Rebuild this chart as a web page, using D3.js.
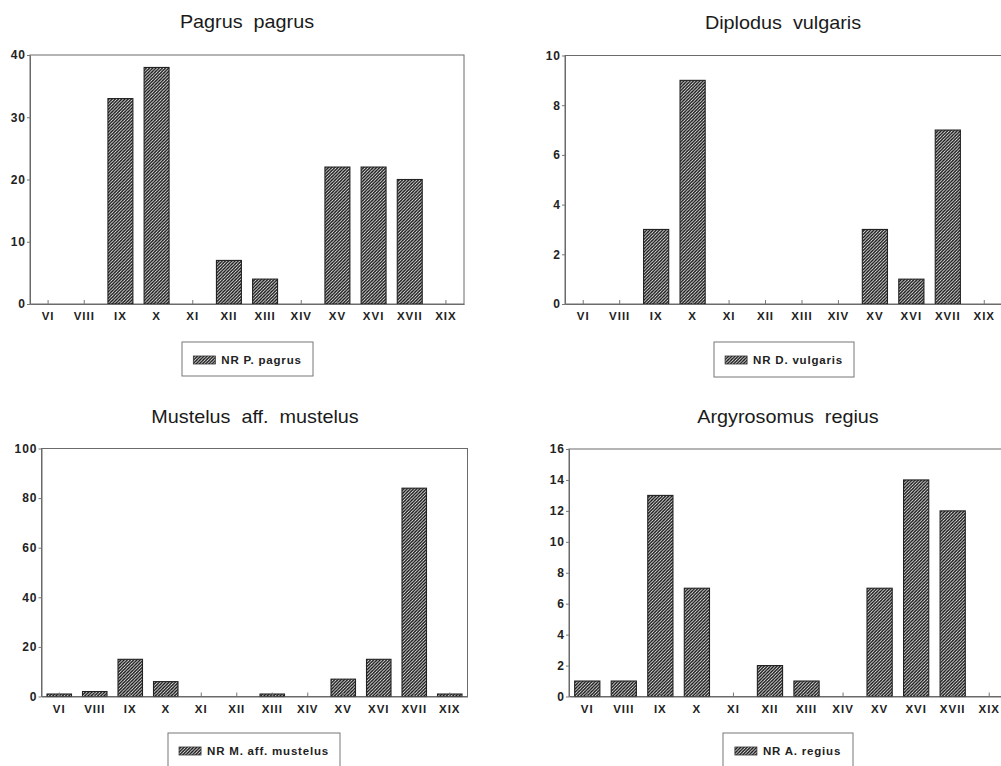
<!DOCTYPE html>
<html>
<head>
<meta charset="utf-8">
<script src="https://cdn.jsdelivr.net/npm/d3@7"></script>
<style>
  html, body { margin: 0; padding: 0; background: #fff; }
  svg { display: block; }
  .tick text { font-family: "Liberation Sans", Arial, sans-serif; font-weight: bold; fill: #222; }
</style>
</head>
<body>
<svg id="chart" width="1001" height="766"></svg>
<script>
// ---- data ----
const categories = ["VI","VIII","IX","X","XI","XII","XIII","XIV","XV","XVI","XVII","XIX"];

const pagrusValues    = [0, 0, 33, 38, 0, 7, 4, 0, 22, 22, 20, 0];
const diplodusValues  = [0, 0, 3, 9, 0, 0, 0, 0, 3, 1, 7, 0];
const mustelusValues  = [1, 2, 15, 6, 0, 0, 1, 0, 7, 15, 84, 1];
const argyroValues    = [1, 1, 13, 7, 0, 2, 1, 0, 7, 14, 12, 0];

const pagrusTicks   = [0, 10, 20, 30, 40];
const diplodusTicks = [0, 2, 4, 6, 8, 10];
const mustelusTicks = [0, 20, 40, 60, 80, 100];
const argyroTicks   = [0, 2, 4, 6, 8, 10, 12, 14, 16];

const titles  = ["Pagrus  pagrus", "Diplodus  vulgaris", "Mustelus  aff.  mustelus", "Argyrosomus  regius"];
const legends = ["NR P. pagrus", "NR D. vulgaris", "NR M. aff. mustelus", "NR A. regius"];

// ---- layout ----
const panels = [
  { values: pagrusValues,   ticks: pagrusTicks,   title: titles[0], legend: legends[0],
    left: 30,  right: 464,   top: 55,  bottom: 304, titleX: 247, titleY: 28,
    lg: { x: 182, y: 342, w: 131, h: 34 } },
  { values: diplodusValues, ticks: diplodusTicks, title: titles[1], legend: legends[1],
    left: 565, right: 1002.5, top: 55.5, bottom: 304, titleX: 783, titleY: 29,
    lg: { x: 714, y: 342, w: 140, h: 35 } },
  { values: mustelusValues, ticks: mustelusTicks, title: titles[2], legend: legends[2],
    left: 41.5, right: 467.5, top: 448.5, bottom: 696.5, titleX: 255, titleY: 423,
    lg: { x: 168, y: 733, w: 172, h: 45 } },
  { values: argyroValues,   ticks: argyroTicks,   title: titles[3], legend: legends[3],
    left: 569, right: 1007.5, top: 449, bottom: 696.5, titleX: 788, titleY: 423,
    lg: { x: 723, y: 733, w: 130, h: 45 } }
];

const svg = d3.select("#chart");
const defs = svg.append("defs");
const P = 3.2;
const pat = defs.append("pattern")
  .attr("id", "hatch").attr("patternUnits", "userSpaceOnUse")
  .attr("width", P).attr("height", P);
pat.append("rect").attr("width", P).attr("height", P).attr("fill", "#fff");
pat.append("path")
  .attr("d", `M-0.8,0.8 L0.8,-0.8 M0,${P} L${P},0 M${P-0.8},${P+0.8} L${P+0.8},${P-0.8}`)
  .attr("stroke", "#111").attr("stroke-width", 1.45);

panels.forEach(p => {
  const g = svg.append("g");
  const x = d3.scaleBand().domain(categories).range([p.left, p.right])
    .paddingInner(0.31).paddingOuter(0.155);
  const y = d3.scaleLinear().domain([0, d3.max(p.ticks)]).range([p.bottom, p.top]);

  // frame
  g.append("rect")
    .attr("x", p.left).attr("y", p.top)
    .attr("width", p.right - p.left).attr("height", p.bottom - p.top)
    .attr("fill", "none").attr("stroke", "#6a6a6a").attr("stroke-width", 1);

  // bars
  g.selectAll("rect.bar").data(categories.map((c, i) => ({ c, v: p.values[i] })).filter(d => d.v > 0))
    .enter().append("rect").attr("class", "bar")
    .attr("x", d => x(d.c))
    .attr("y", d => y(d.v))
    .attr("width", x.bandwidth())
    .attr("height", d => y(0) - y(d.v))
    .attr("fill", "url(#hatch)")
    .attr("stroke", "#222").attr("stroke-width", 1.1);

  // axes
  const xAxis = d3.axisBottom(x).tickSizeInner(-4).tickSizeOuter(0).tickPadding(8);
  const xg = g.append("g").attr("transform", `translate(0,${p.bottom})`).call(xAxis);
  xg.select(".domain").attr("stroke", "#6a6a6a");
  xg.selectAll(".tick line").attr("stroke", "#777");
  xg.selectAll(".tick text").attr("font-size", 11.5).attr("letter-spacing", "1px");

  const yAxis = d3.axisLeft(y).tickValues(p.ticks).tickSizeInner(3).tickSizeOuter(0).tickPadding(1)
    .tickFormat(d3.format("d"));
  const yg = g.append("g").attr("transform", `translate(${p.left},0)`).call(yAxis);
  yg.select(".domain").attr("stroke", "#6a6a6a");
  yg.selectAll(".tick line").attr("stroke", "#777");
  yg.selectAll(".tick text").attr("font-size", 12).attr("letter-spacing", "1px");

  // title
  g.append("text")
    .attr("transform", `translate(${p.titleX},${p.titleY}) scale(1.1,1)`)
    .attr("text-anchor", "middle")
    .attr("font-family", "Liberation Sans, Arial, sans-serif")
    .attr("font-size", 18).attr("fill", "#1a1a1a")
    .style("white-space", "pre")
    .text(p.title);

  // legend
  const L = p.lg;
  g.append("rect").attr("x", L.x).attr("y", L.y).attr("width", L.w).attr("height", L.h)
    .attr("fill", "#fff").attr("stroke", "#777").attr("stroke-width", 1);
  const sw = 22, sh = 8;
  const legText = g.append("text")
    .attr("font-family", "Liberation Sans, Arial, sans-serif")
    .attr("font-weight", "bold").attr("font-size", 11.5).attr("fill", "#222")
    .attr("letter-spacing", "0.8px")
    .text(p.legend);
  const tw = legText.node().getComputedTextLength();
  const total = sw + 6 + tw;
  const sx = L.x + (L.w - total) / 2;
  const baseY = L.y + 22;
  g.append("rect").attr("x", sx).attr("y", baseY - sh).attr("width", sw).attr("height", sh)
    .attr("fill", "url(#hatch)").attr("stroke", "#333").attr("stroke-width", 0.8);
  legText.attr("x", sx + sw + 6).attr("y", baseY);
});
</script>
</body>
</html>
